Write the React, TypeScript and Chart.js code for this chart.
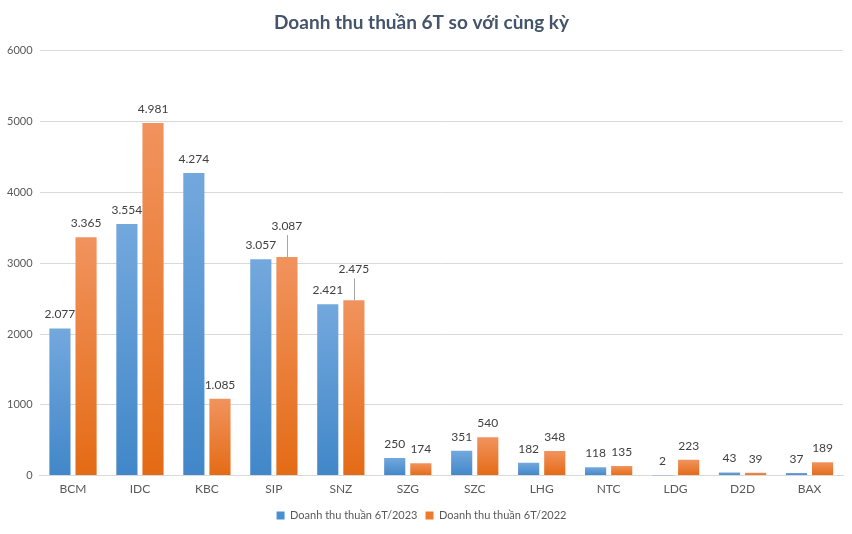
import React, { useEffect, useRef } from 'react';
import { Chart, registerables } from 'chart.js';

Chart.register(...registerables);

const categories = ['BCM', 'IDC', 'KBC', 'SIP', 'SNZ', 'SZG', 'SZC', 'LHG', 'NTC', 'LDG', 'D2D', 'BAX'];
const revenue2023 = [2077, 3554, 4274, 3057, 2421, 250, 351, 182, 118, 2, 43, 37];
const revenue2022 = [3365, 4981, 1085, 3087, 2475, 174, 540, 348, 135, 223, 39, 189];
const seriesNames = ['Doanh thu thuần 6T/2023', 'Doanh thu thuần 6T/2022'];
const titleText = 'Doanh thu thuần 6T so với cùng kỳ';
const yMin = 0;
const yMax = 6000;
const yStep = 1000;
// labels lifted with a leader line: [datasetIndex, categoryIndex]
const liftedLabels: [number, number][] = [[1, 3], [1, 4]];

const FONT = 'Lato, "Open Sans", sans-serif';

function fmt(v: number): string {
  const s = Math.round(v).toString();
  return s.replace(/\B(?=(\d{3})+(?!\d))/g, '.');
}

function barGradient(top: [string, string]) {
  return (ctx: any) => {
    if (ctx.type !== 'data') return top[1];
    const chart = ctx.chart;
    const y = chart.scales?.y;
    if (!y || !chart.chartArea) return top[1];
    const yTop = y.getPixelForValue(ctx.raw);
    const yBase = y.getPixelForValue(0);
    if (!isFinite(yTop) || !isFinite(yBase) || Math.abs(yBase - yTop) < 1) return top[1];
    const g = chart.ctx.createLinearGradient(0, yTop, 0, yBase);
    g.addColorStop(0, top[0]);
    g.addColorStop(1, top[1]);
    return g;
  };
}

const labelPlugin = {
  id: 'valueLabels',
  afterDatasetsDraw(chart: any) {
    const ctx = chart.ctx;
    ctx.save();
    ctx.font = `12px ${FONT}`;
    ctx.fillStyle = '#404040';
    ctx.textAlign = 'center';
    ctx.textBaseline = 'middle';
    chart.data.datasets.forEach((ds: any, di: number) => {
      const meta = chart.getDatasetMeta(di);
      meta.data.forEach((el: any, i: number) => {
        const v = ds.data[i];
        const lifted = liftedLabels.some(([a, b]) => a === di && b === i);
        let ty = el.y - 14;
        if (lifted) {
          ty = el.y - 31;
          ctx.save();
          ctx.strokeStyle = '#a6a6a6';
          ctx.lineWidth = 1;
          ctx.beginPath();
          ctx.moveTo(Math.round(el.x) + 0.5, el.y);
          ctx.lineTo(Math.round(el.x) + 0.5, ty + 9);
          ctx.stroke();
          ctx.restore();
        }
        ctx.fillText(fmt(v), el.x, ty);
      });
    });
    ctx.restore();
  },
};

export default function App() {
  const ref = useRef<HTMLCanvasElement | null>(null);
  useEffect(() => {
    document.body.style.margin = '0';
    if (!ref.current) return;
    const colors: [string, string][] = [
      ['#73a8dd', '#4187c9'],
      ['#f1935e', '#e46b15'],
    ];
    const solid = ['#4a8fd0', '#ee7b2b'];
    const chart = new Chart(ref.current, {
      type: 'bar',
      data: {
        labels: categories,
        datasets: [
          {
            label: seriesNames[0],
            data: revenue2023,
            backgroundColor: barGradient(colors[0]),
            categoryPercentage: 0.78,
            barPercentage: 0.81,
          },
          {
            label: seriesNames[1],
            data: revenue2022,
            backgroundColor: barGradient(colors[1]),
            categoryPercentage: 0.78,
            barPercentage: 0.81,
          },
        ],
      },
      plugins: [labelPlugin],
      options: {
        responsive: false,
        animation: false,
        maintainAspectRatio: false,
        layout: { padding: { left: 0, right: 9, top: 0, bottom: 3 } },
        plugins: {
          title: {
            display: true,
            text: titleText,
            color: '#44546a',
            font: { family: FONT, size: 19, weight: 'bold' },
            padding: { top: 11, bottom: 17 },
          },
          legend: {
            position: 'bottom',
            labels: {
              color: '#595959',
              font: { family: FONT, size: 11 },
              boxWidth: 8,
              boxHeight: 8,
              padding: 8,
              generateLabels: (c: any) =>
                c.data.datasets.map((ds: any, i: number) => ({
                  text: ds.label,
                  fillStyle: solid[i],
                  strokeStyle: solid[i],
                  lineWidth: 0,
                  hidden: false,
                  datasetIndex: i,
                  fontColor: '#595959',
                })),
            },
          },
          tooltip: { enabled: false },
        },
        scales: {
          x: {
            grid: { display: false, drawTicks: false },
            border: { display: true, color: '#d9d9d9' },
            ticks: { color: '#595959', font: { family: FONT, size: 12 }, padding: 6 },
          },
          y: {
            min: yMin,
            max: yMax,
            ticks: {
              stepSize: yStep,
              color: '#595959',
              font: { family: FONT, size: 11 },
              padding: 7,
              callback: (v: any) => String(v),
            },
            grid: { color: '#d9d9d9', drawTicks: false },
            border: { display: false },
          },
        },
      },
    });
    return () => chart.destroy();
  }, []);
  return (
    <div style={{ width: 852, height: 534, background: '#fff' }}>
      <canvas ref={ref} width={852} height={534} style={{ display: 'block' }} />
    </div>
  );
}
